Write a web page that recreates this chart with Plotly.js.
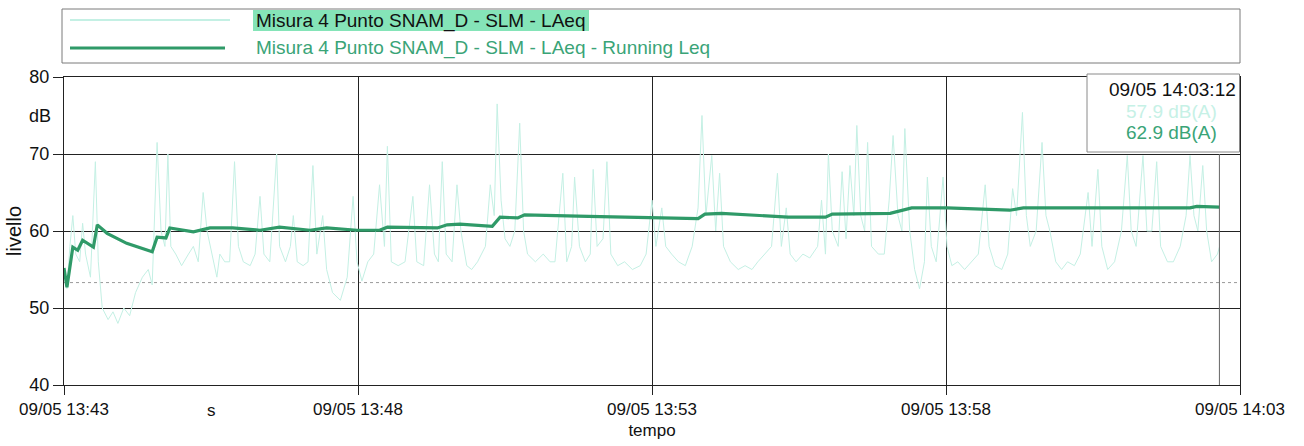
<!DOCTYPE html>
<html>
<head>
<meta charset="utf-8">
<script src="https://cdn.plot.ly/plotly-3.0.1.min.js"></script>
<style>
  html, body { margin: 0; padding: 0; background: #ffffff; }
  #chart { width: 1304px; height: 446px; }
</style>
</head>
<body>
<div id="chart"></div>
<script>
// ---- data (seconds from start of measurement 09/05 13:43:33) ----
const laeqSec = [0,3,6,9,12,16,19,22,27,32,35,39,45,50,55,61,67,73,80,86,90,95,99,103,106,109,114,120,127,132,137,142,146,151,156,159,164,169,174,178,183,190,195,200,204,210,217,220,226,231,234,238,244,249,254,258,264,268,274,282,289,295,299,304,310,316,322,327,330,334,341,348,356,360,367,373,378,382,386,390,396,401,405,411,416,422,430,435,439,442,446,450,455,460,465,469,473,481,489,496,501,509,513,518,521,526,532,537,540,544,550,554,558,565,572,580,588,594,600,604,610,614,620,627,634,641,647,651,655,661,665,669,673,680,688,695,702,708,715,722,728,732,737,741,747,754,761,769,773,777,780,784,790,794,798,802,806,809,813,817,820,824,831,837,842,846,851,855,858,863,868,873,878,881,885,890,897,901,906,912,919,926,933,940,944,950,957,963,968,972,978,982,986,992,998,1002,1006,1012,1018,1024,1031,1037,1045,1049,1055,1059,1065,1072,1079,1085,1089,1094,1101,1105,1110,1115,1119,1126,1132,1139,1145,1149,1153,1157,1162,1166,1171,1177,1179];
const laeqVal = [55,52.5,58,62,57,56,61,57,54,69,56,50,48.5,49.5,48,50,49,52,54,55,53,71.5,60,58,70,58,57,55.5,57,58,56,65,60,57,54,57,56,56,69,58,56,55.5,57,64.5,57,56,70,58,56,58,62,56,55.5,56,68.5,57,62,55,52,51,54,64.5,56,53.5,56,57,66,58,71,56,55.5,56,64.5,56,55.5,66,57,56,69,57,56,66,60,55.5,55,56,58,66,62,76.5,64,59,58,60,74,60,57,56,57,56,56,67.5,56,58,67,58,56,57,68,58,59,69,57,55.5,56,55,55.5,57,64,58,63,58,57,56,55.5,58,63,75,62,69.8,60,67.5,58,56,55,55.5,55,56,57,58,67.5,58,63,57,56,57,56.5,58,64,57,70,60,58,67.7,59,68.5,62,73.7,62,60,71.5,58,57,57,64,72.4,62,60,73.3,60,55,52.5,56,67,58,56,67,58,55.5,56,55,56,57,66,58,55.5,55,57,65.5,62,75.4,62,58,60,71.5,62,60,56,55,56,55.5,57,65,58,68,58,55,56,60,69.8,60,58,69.8,60,60,69,58,56,56,58,62,69.8,62,60,68.5,60,56,57,57.9];

const leqSec = [0,3,9,14,19,30,34,44,64,90,95,104,108,132,149,172,200,220,251,268,299,322,330,381,391,404,437,445,463,470,535,600,647,654,671,739,777,784,807,843,865,901,965,979,1074,1149,1156,1179];
const leqVal = [55.2,52.7,57.9,57.5,58.8,57.9,60.8,59.7,58.4,57.3,59.2,59.1,60.4,59.9,60.4,60.4,60.1,60.5,60.1,60.4,60.1,60.1,60.5,60.4,60.8,60.9,60.6,61.8,61.7,62.1,61.9,61.7,61.6,62.2,62.3,61.8,61.8,62.2,62.2,62.3,63.0,63.0,62.7,63.0,63.0,63.0,63.2,63.1];

const tickSec = [0,300,600,900,1200];
const tickText = ['09/05 13:43','09/05 13:48','09/05 13:53','09/05 13:58','09/05 14:03'];
const yTicks = [40,50,60,70,80];

const seriesNames = ['Misura 4 Punto SNAM_D - SLM - LAeq', 'Misura 4 Punto SNAM_D - SLM - LAeq - Running Leq'];
const cursorTime = '09/05 14:03:12';
const cursorLaeq = 57.9;
const cursorLeq = 62.9;
const refLevel = 53.3;

// ---- build ----
const startMs = Date.UTC(2023, 4, 9, 13, 43, 33);
const toMs = s => startMs + s * 1000;

const cLight = '#c4f0e4';
const cGreen = '#2f9a68';
const cGreenText = '#3aa477';
const FONT = 'Liberation Sans, Arial, sans-serif';

// pixel helpers for the decoration (plot area: x 64..1240, y 77..385)
const PL = 64, PR = 1240, PT = 77, PB = 385;
const px = x => (x - PL) / (PR - PL);
const py = y => (PB - y) / (PB - PT);

const traces = [
  { x: laeqSec.map(toMs), y: laeqVal, type: 'scatter', mode: 'lines', name: seriesNames[0],
    line: { color: cLight, width: 1 }, hoverinfo: 'skip' },
  { x: leqSec.map(toMs), y: leqVal, type: 'scatter', mode: 'lines', name: seriesNames[1],
    line: { color: cGreen, width: 3.2 }, hoverinfo: 'skip' }
];

const lastMs = toMs(laeqSec[laeqSec.length - 1]);

const shapes = [
  // reference level line
  { type: 'line', xref: 'paper', yref: 'y', x0: 0, x1: 1, y0: refLevel, y1: refLevel,
    line: { color: '#9a9a9a', width: 1, dash: 'dot' }, layer: 'below' },
  // cursor line
  { type: 'line', xref: 'x', yref: 'y', x0: lastMs, x1: lastMs, y0: 40, y1: 70,
    line: { color: '#666', width: 1 }, layer: 'above' },
  // cursor box
  { type: 'rect', xref: 'paper', yref: 'paper', x0: px(1087), x1: px(1239.5), y0: py(152), y1: py(74),
    fillcolor: '#ffffff', line: { color: '#8a8a8a', width: 1 }, layer: 'above' },
  // legend box
  { type: 'rect', xref: 'paper', yref: 'paper', x0: px(62), x1: px(1240), y0: py(63), y1: py(9),
    fillcolor: 'rgba(0,0,0,0)', line: { color: '#7a7a7a', width: 1 } },
  // legend sample 1
  { type: 'line', xref: 'paper', yref: 'paper', x0: px(70), x1: px(230), y0: py(20), y1: py(20),
    line: { color: cLight, width: 2 } },
  // legend highlight
  { type: 'rect', xref: 'paper', yref: 'paper', x0: px(253), x1: px(589), y0: py(31), y1: py(10),
    fillcolor: '#85e4b8', line: { width: 0 } },
  // legend sample 2
  { type: 'line', xref: 'paper', yref: 'paper', x0: px(70), x1: px(225), y0: py(48), y1: py(48),
    line: { color: cGreen, width: 3 } }
];

const annotations = [
  { xref: 'paper', yref: 'paper', x: px(254), y: py(21), xanchor: 'left', yanchor: 'middle',
    text: seriesNames[0], showarrow: false, font: { family: FONT, size: 19, color: '#111' } },
  { xref: 'paper', yref: 'paper', x: px(254), y: py(48), xanchor: 'left', yanchor: 'middle',
    text: seriesNames[1], showarrow: false, font: { family: FONT, size: 19, color: cGreenText } },
  { xref: 'paper', yref: 'paper', x: px(1172), y: py(89), xanchor: 'center', yanchor: 'middle',
    text: cursorTime, showarrow: false, font: { family: FONT, size: 19, color: '#111' } },
  { xref: 'paper', yref: 'paper', x: px(1171), y: py(111), xanchor: 'center', yanchor: 'middle',
    text: cursorLaeq.toFixed(1) + ' dB(A)', showarrow: false, font: { family: FONT, size: 19, color: '#c6f1e6' } },
  { xref: 'paper', yref: 'paper', x: px(1171), y: py(132), xanchor: 'center', yanchor: 'middle',
    text: cursorLeq.toFixed(1) + ' dB(A)', showarrow: false, font: { family: FONT, size: 19, color: cGreenText } },
  { xref: 'paper', yref: 'paper', x: px(40), y: py(116), xanchor: 'center', yanchor: 'middle',
    text: 'dB', showarrow: false, font: { family: FONT, size: 18, color: '#111' } },
  { xref: 'paper', yref: 'paper', x: px(211), y: py(410), xanchor: 'center', yanchor: 'middle',
    text: 's', showarrow: false, font: { family: FONT, size: 17, color: '#111' } }
];

const layout = {
  width: 1304, height: 446,
  margin: { l: PL, r: 1304 - PR, t: PT, b: 446 - PB },
  paper_bgcolor: '#ffffff', plot_bgcolor: '#ffffff',
  showlegend: false,
  font: { family: FONT, size: 17, color: '#111' },
  xaxis: {
    type: 'date', range: [toMs(0), toMs(1200)],
    tickmode: 'array', tickvals: tickSec.map(toMs), ticktext: tickText,
    showgrid: true, gridcolor: '#222', gridwidth: 1,
    showline: true, linecolor: '#222', linewidth: 1, mirror: true,
    ticks: 'outside', ticklen: 9, tickcolor: '#222',
    tickfont: { family: FONT, size: 17, color: '#111' },
    zeroline: false, automargin: false,
    title: { text: 'tempo', standoff: 5, font: { family: FONT, size: 17, color: '#111' } }
  },
  yaxis: {
    range: [40, 80], tickmode: 'array', tickvals: yTicks,
    showgrid: true, gridcolor: '#222', gridwidth: 1,
    showline: true, linecolor: '#222', linewidth: 1, mirror: true,
    ticks: 'outside', ticklen: 10, tickcolor: '#222',
    tickfont: { family: FONT, size: 18, color: '#111' },
    zeroline: false, automargin: false,
    title: { text: 'livello', standoff: 2, font: { family: FONT, size: 20, color: '#111' } }
  },
  shapes: shapes,
  annotations: annotations
};

Plotly.newPlot('chart', traces, layout, { staticPlot: true, displayModeBar: false });
</script>
</body>
</html>
